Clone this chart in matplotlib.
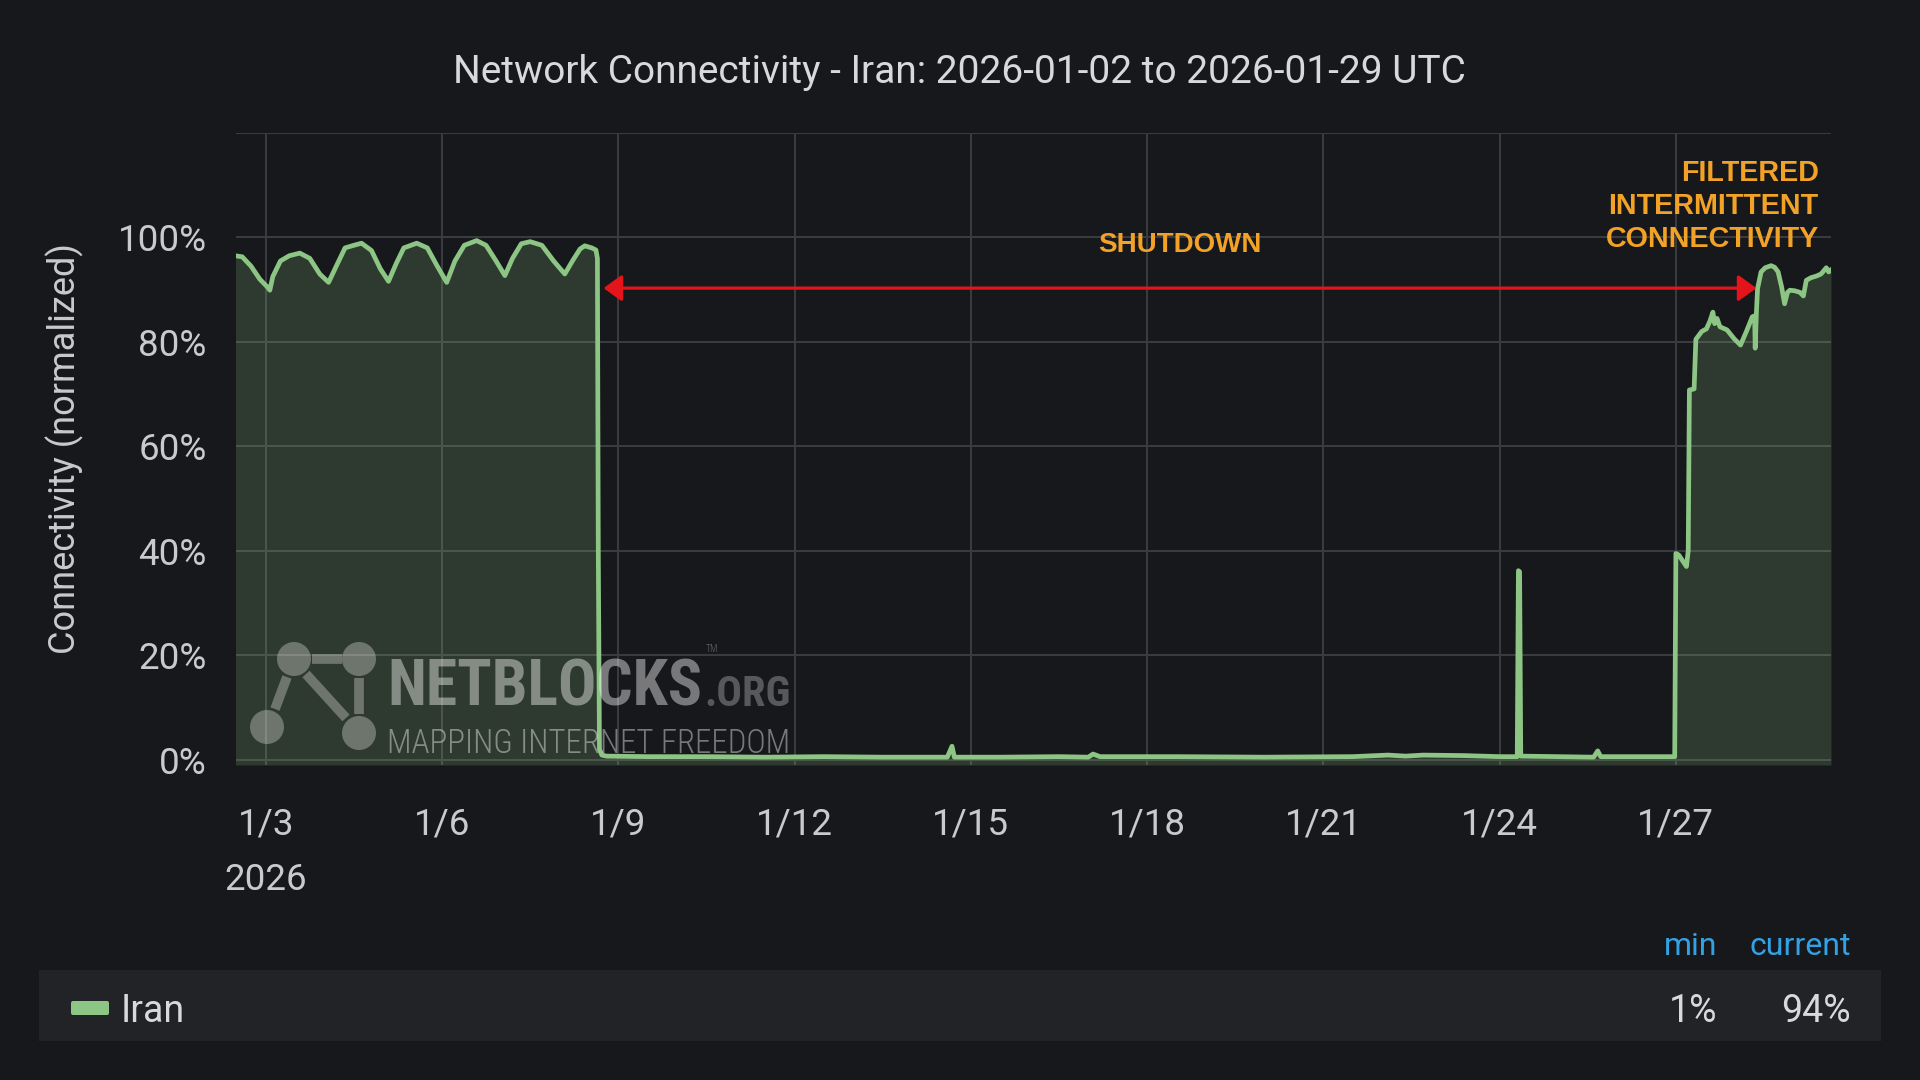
import os
import numpy as np
import pandas as pd
import matplotlib
matplotlib.use("Agg")
import matplotlib.pyplot as plt
import matplotlib.dates as mdates
from matplotlib import font_manager as fm
from matplotlib.patches import Circle, Rectangle, FancyBboxPatch
from matplotlib.lines import Line2D

# ---------------- data ----------------
start_date = "2026-01-03"
days_since_jan3 = [
    -0.52, -0.40, -0.25, -0.10, 0.03, 0.07, 0.12, 0.25, 0.40, 0.58, 0.75, 0.92,
    1.07, 1.20, 1.35, 1.50, 1.63, 1.80, 1.95, 2.09, 2.22, 2.35, 2.57, 2.75,
    2.92, 3.08, 3.22, 3.38, 3.59, 3.75, 3.92, 4.07, 4.20, 4.35, 4.50, 4.70,
    4.90, 5.09, 5.22, 5.35, 5.43, 5.55, 5.62, 5.645, 5.66, 5.68, 5.72, 5.80,
    6.50, 7.50, 8.50, 9.50, 10.50, 11.60, 11.68, 11.72, 12.50, 13.50, 14.00,
    14.08, 14.20, 15.50, 17.00, 18.50, 19.10, 19.40, 19.70, 20.40, 21.00, 21.30,
    21.32, 21.34, 21.36, 22.00, 22.60, 22.67, 22.72, 23.50, 23.98, 24.00, 24.05,
    24.12, 24.18, 24.21, 24.23, 24.31, 24.34, 24.44, 24.52, 24.58, 24.63, 24.66,
    24.70, 24.75, 24.87, 25.00, 25.10, 25.20, 25.30, 25.34, 25.35, 25.37, 25.39,
    25.45, 25.52, 25.62, 25.68, 25.74, 25.80, 25.85, 25.90, 25.94, 26.02, 26.11,
    26.17, 26.22, 26.30, 26.39, 26.47, 26.56, 26.60, 26.64,
]
connectivity_pct = [
    96.5, 96.3, 94.5, 92.0, 90.5, 89.9, 92.5, 95.5, 96.5, 97.0, 96.0, 93.0,
    91.4, 94.5, 98.0, 98.5, 98.9, 97.5, 94.0, 91.6, 95.0, 98.0, 98.9, 98.0,
    94.5, 91.4, 95.5, 98.5, 99.4, 98.5, 95.5, 92.7, 96.0, 98.8, 99.2, 98.5,
    95.5, 93.0, 95.5, 97.8, 98.4, 98.0, 97.6, 96.0, 40.0, 2.0, 0.9, 0.7,
    0.6, 0.6, 0.5, 0.6, 0.5, 0.5, 2.6, 0.5, 0.5, 0.6, 0.5,
    1.1, 0.6, 0.6, 0.5, 0.6, 0.9, 0.7, 0.9, 0.8, 0.6, 0.6,
    36.2, 36.0, 0.7, 0.6, 0.5, 1.7, 0.6, 0.6, 0.6, 39.5, 39.2,
    38.0, 37.0, 40.0, 70.8, 71.0, 80.5, 82.0, 82.5, 84.0, 85.7, 83.5,
    84.5, 82.9, 82.3, 80.5, 79.4, 82.0, 84.8, 85.0, 78.8, 85.5, 90.2,
    93.4, 94.2, 94.6, 94.3, 93.4, 90.5, 87.3, 89.5, 89.9, 89.8, 89.5,
    88.8, 91.8, 92.3, 92.6, 93.0, 94.2, 93.4, 93.8,
]

x_tick_days = [0, 3, 6, 9, 12, 15, 18, 21, 24]
x_tick_labels = ["1/3\n2026", "1/6", "1/9", "1/12", "1/15", "1/18", "1/21", "1/24", "1/27"]
y_ticks = [0, 20, 40, 60, 80, 100, 120]
y_tick_labels = ["0%", "20%", "40%", "60%", "80%", "100%", ""]

title_text = "Network Connectivity - Iran: 2026-01-02 to 2026-01-29 UTC"
y_label_text = "Connectivity (normalized)"
series_name = "Iran"
legend_headers = ["min", "current"]
legend_values = ["1%", "94%"]

shutdown_label = "SHUTDOWN"
filtered_label = "FILTERED\nINTERMITTENT\nCONNECTIVITY"
shutdown_start_day = 5.75
shutdown_end_day = 25.37
arrow_level_pct = 90.3

# ---------------- style ----------------
BG = "#17181b"
GRID = "#3b3c40"
LINE = "#8cc584"
TXT = "#c9cacc"
TITLE_C = "#d8d9da"
ORANGE = "#f2a227"
RED = "#e5141b"
BLUE = "#33a2e5"

plt.rcParams["font.family"] = ["Roboto", "DejaVu Sans"]

W, H = 1920, 1080
fig = plt.figure(figsize=(W / 100, H / 100), dpi=100, facecolor=BG)

base = pd.Timestamp(start_date)
def to_num(days):
    return mdates.date2num(base + pd.to_timedelta(np.asarray(days, dtype=float), unit="D"))

xs = to_num(days_since_jan3)
ys = np.asarray(connectivity_pct)

ax = fig.add_axes([236 / W, 1 - 765 / H, (1831 - 236) / W, (765 - 133) / H])
ax.set_facecolor(BG)
ymin, ymax = -1.0, 120.0
ax.set_ylim(ymin, ymax)
ax.set_xlim(to_num([-0.506])[0], to_num([26.64])[0])

ax.fill_between(xs, ys, ymin, color=LINE, alpha=0.2, lw=0, zorder=2)
ax.plot(xs, ys, color=LINE, lw=3.4, zorder=3, solid_joinstyle="round")

ax.set_xticks(to_num(x_tick_days))
ax.set_xticklabels(x_tick_labels)
ax.set_yticks(y_ticks)
ax.set_yticklabels(y_tick_labels)
ax.grid(True, color=GRID, lw=1.4, zorder=1)
ax.set_axisbelow(True)
for s in ax.spines.values():
    s.set_visible(False)
ax.tick_params(axis="both", length=0, colors=TXT, labelsize=26.5)
ax.tick_params(axis="y", pad=21)
ax.tick_params(axis="x", pad=30)
for lab in ax.get_xticklabels():
    lab.set_linespacing(1.68)

ax.set_ylabel(y_label_text, color=TXT, fontsize=26)
ax.yaxis.label.set_va("center")
ax.yaxis.set_label_coords((65 - 236) / (1831 - 236), 0.5)

# annotations
ax.annotate("", xy=(to_num([shutdown_end_day])[0], arrow_level_pct),
            xytext=(to_num([shutdown_start_day])[0], arrow_level_pct),
            arrowprops=dict(arrowstyle="<|-|>,head_length=0.55,head_width=0.4",
                            color=RED, lw=2.3, shrinkA=0, shrinkB=0,
                            mutation_scale=20), zorder=5)
ax.text(to_num([15.55])[0], 98.6, shutdown_label, color=ORANGE, fontsize=20,
        fontweight="bold", family=["Liberation Sans", "DejaVu Sans"],
        ha="center", va="center", zorder=6)
ax.text(to_num([26.43])[0], 106.1, filtered_label, color=ORANGE, fontsize=20.7,
        fontweight="bold", family=["Liberation Sans", "DejaVu Sans"],
        ha="right", va="center", multialignment="right", linespacing=1.23, zorder=6)

# title
fig.text(0.4995, 1 - 83 / H, title_text, color=TITLE_C, fontsize=28,
         ha="center", va="baseline")

# ---------------- overlay (pixel coords) ----------------
ov = fig.add_axes([0, 0, 1, 1], facecolor="none")
ov.set_xlim(0, W)
ov.set_ylim(H, 0)
ov.axis("off")

def find_font(cands):
    files = [f.fname for f in fm.fontManager.ttflist]
    for kws in cands:
        for fn in files:
            b = os.path.basename(fn).lower()
            if all(k in b for k in kws):
                return fm.FontProperties(fname=fn)
    return None

fp_bold = find_font([("robotocondensed", "bold"), ("liberationsansnarrow", "bold"),
                     ("dejavusanscondensed", "bold"), ("opensans", "condensed", "bold")])
if fp_bold is None:
    fp_bold = fm.FontProperties(family="Roboto", weight="bold")
fp_light = find_font([("robotocondensed", "light"), ("robotocondensed", "regular"),
                      ("liberationsansnarrow", "regular"), ("dejavusanscondensed.ttf",),
                      ("opensans", "condensed", "light")])
if fp_light is None:
    fp_light = fm.FontProperties(family="Roboto", weight="light")

WM = "white"
wm_alpha = 0.42
logo_circles = [(294, 659), (359, 659), (267, 727), (359, 733)]
for (cx, cy) in logo_circles:
    ov.add_patch(Circle((cx, cy), 17, color=WM, alpha=0.3, lw=0, zorder=10))
for (x0, y0, x1, y1) in [(312, 659, 342, 659), (287, 677, 275, 709),
                         (306, 674, 346, 718), (359, 678, 359, 714)]:
    ov.add_line(Line2D([x0, x1], [y0, y1], color=WM, alpha=0.3, lw=7,
                       solid_capstyle="butt", zorder=10))

renderer = fig.canvas.get_renderer()
def fit(txt, target_w):
    for _ in range(3):
        bb = txt.get_window_extent(renderer)
        if bb.width > 0:
            txt.set_fontsize(txt.get_fontsize() * target_w / bb.width)

t_nb = ov.text(387, 706, "NETBLOCKS", fontproperties=fp_bold, fontsize=40,
               color=WM, alpha=wm_alpha, ha="left", va="baseline", zorder=11)
fit(t_nb, 315)
t_org = ov.text(704, 706, ".ORG", fontproperties=fp_bold, fontsize=30,
                color=WM, alpha=0.28, ha="left", va="baseline", zorder=11)
fit(t_org, 86)
ov.text(706, 652, "TM", fontproperties=fp_light, fontsize=7, color=WM,
        alpha=0.35, ha="left", va="baseline", zorder=11)
t_tag = ov.text(387, 753, "MAPPING INTERNET FREEDOM", fontproperties=fp_light,
                fontsize=20, color=WM, alpha=wm_alpha, ha="left", va="baseline", zorder=11)
fit(t_tag, 403)

# legend
ov.add_patch(Rectangle((39, 970), 1842, 71, color="#222327", lw=0, zorder=1))
ov.add_patch(FancyBboxPatch((71, 1001), 38, 14, boxstyle="round,pad=0,rounding_size=2",
                            color=LINE, lw=0, zorder=2))
ov.text(121, 1022, series_name, color=TITLE_C, fontsize=27, ha="left",
        va="baseline", zorder=3)
ov.text(1717, 955, legend_headers[0], color=BLUE, fontsize=23, ha="right", va="baseline")
ov.text(1851, 955, legend_headers[1], color=BLUE, fontsize=23, ha="right", va="baseline")
ov.text(1717, 1022, legend_values[0], color=TITLE_C, fontsize=27, ha="right", va="baseline", zorder=3)
ov.text(1851, 1022, legend_values[1], color=TITLE_C, fontsize=27, ha="right", va="baseline", zorder=3)

fig.savefig("out.png", dpi=100, facecolor=BG)
